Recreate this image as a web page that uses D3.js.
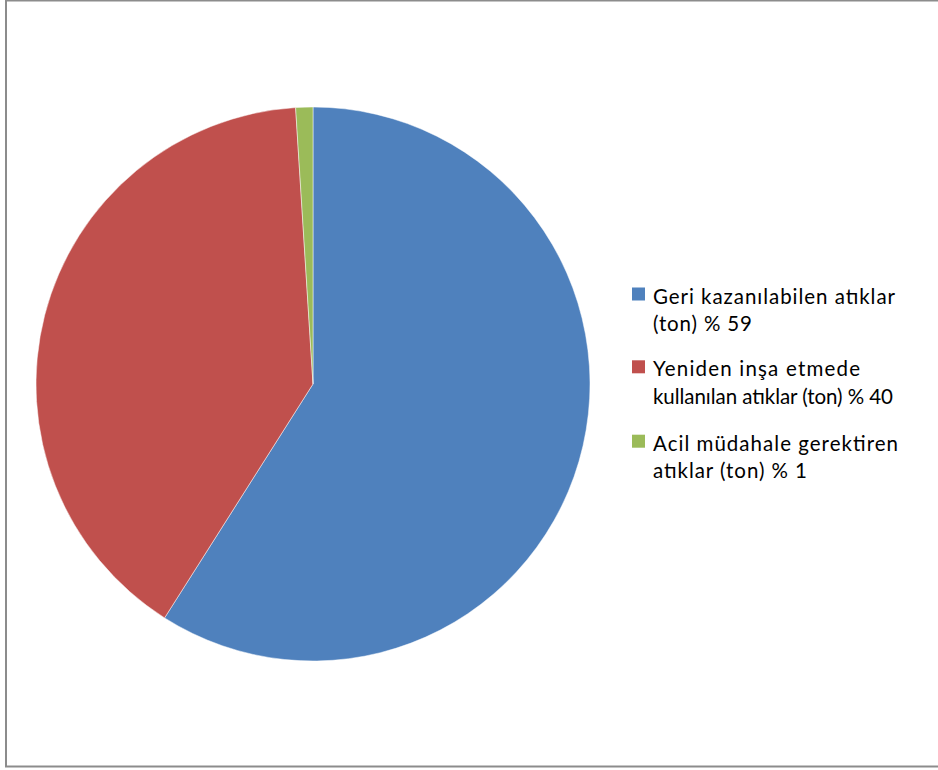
<!DOCTYPE html>
<html><head><meta charset="utf-8">
<script src="https://cdn.jsdelivr.net/npm/d3@7"></script>
<style>html,body{margin:0;padding:0;background:#fff;}svg{display:block;}</style>
</head><body>
<svg id="chart" width="938" height="770"></svg>
<script>
const categories = [
  ["Geri kazanılabilen atıklar", "(ton) % 59"],
  ["Yeniden inşa etmede", "kullanılan atıklar (ton) % 40"],
  ["Acil müdahale gerektiren", "atıklar (ton) % 1"]
];
const values = [59, 40, 1];
const colors = ["#4F81BD", "#C0504D", "#9BBB59"];

// layout: rendered widths of each legend line in the reference
const lineWidths = [[242, 99], [207, 240], [245, 154]];

const svg = d3.select("#chart");
svg.append("rect").attr("x", 6).attr("y", 0.5).attr("width", 945).attr("height", 766)
  .attr("fill", "#fff").attr("stroke", "#8c8c8c").attr("stroke-width", 2);

const cx = 313, cy = 384, r = 277;
const pie = d3.pie().sort(null).value(d => d);
const arc = d3.arc().innerRadius(0).outerRadius(r);
const g = svg.append("g").attr("transform", `translate(${cx},${cy})`);
g.selectAll("path").data(pie(values)).join("path")
  .attr("d", arc).attr("fill", (d, i) => colors[i])
  .attr("stroke", "#fff").attr("stroke-opacity", 0.6).attr("stroke-width", 0.8);

const lg = svg.append("g");
const itemY = [294, 366.8, 441.2];
categories.forEach((lines, i) => {
  lg.append("rect").attr("x", 632).attr("y", itemY[i] - 6.5).attr("width", 13).attr("height", 13)
    .attr("fill", colors[i]);
  lines.forEach((t, j) => {
    lg.append("text").attr("x", 653).attr("y", itemY[i] + 9.5 + j * 27.7)
      .attr("font-family", "Lato, 'Open Sans', sans-serif").attr("font-size", 20.5)
      .attr("textLength", lineWidths[i][j]).attr("lengthAdjust", "spacing")
      .attr("fill", "#000").text(t);
  });
});
</script>
</body></html>
